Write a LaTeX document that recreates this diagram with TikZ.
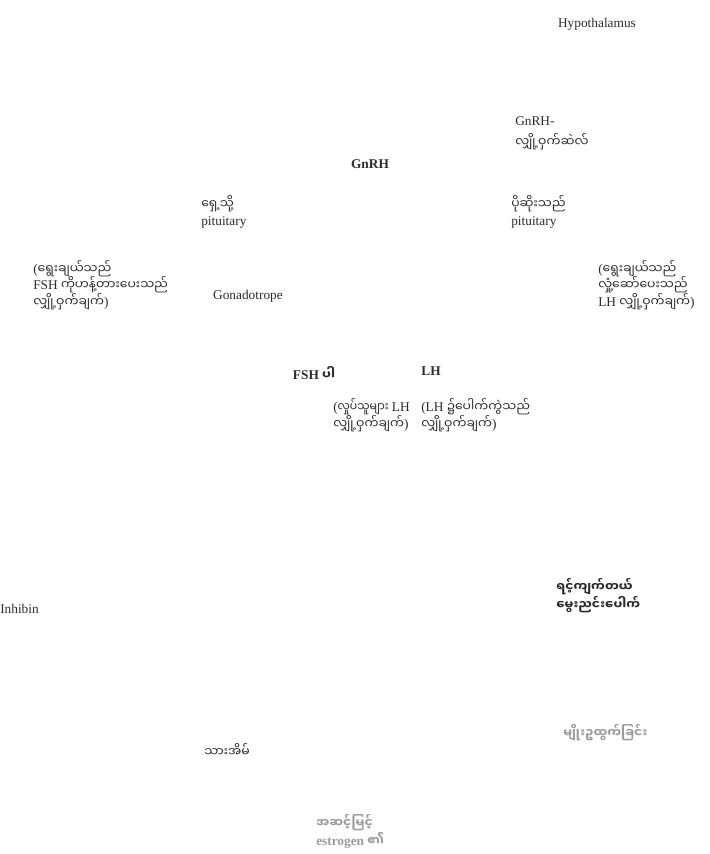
\documentclass[tikz,border=0pt]{standalone}
\usepackage{fontspec}
\setmainfont{Liberation Serif}
\newfontfamily\mmfont[Script=Myanmar,Scale=0.93]{Noto Sans Myanmar UI}
\newfontfamily\mmnarrow[Script=Myanmar,Scale=0.93,FakeStretch=0.88]{Noto Sans Myanmar UI}
\definecolor{hptext}{HTML}{2B2B2B}
\definecolor{hpfaint}{HTML}{9C9C9C}
\newcommand{\mm}[1]{{\mmfont #1}}
\newcommand{\hpfont}{\fontsize{10}{12.4}\selectfont\lineskiplimit=-20pt}
\tikzstyle{hplabel}=[text=hptext,align=left,anchor=west,inner sep=0pt,font=\hpfont]
\tikzstyle{hpmid}=[hplabel,anchor=center,align=center]
\tikzstyle{hpbold}=[hpmid,font=\hpfont\bfseries]

\begin{document}
\begin{tikzpicture}[x=0.75pt,y=-0.75pt]
    \useasboundingbox (0,0) rectangle (710,854);
    \node[hpmid] (hypo) at (597,24) {Hypothalamus};
    \node[hplabel] (gnrhcell) at (515,133) {GnRH-\\[3pt]\mm{လျှို့ဝှက်ဆဲလ်}};
    \node[hpbold] (gnrh) at (370,164) {GnRH};
    \node[hplabel] (antpit) at (201,212) {\mm{ရှေ့သို့}\\pituitary};
    \node[hplabel] (postpit) at (511,212) {\mm{ပိုဆိုးသည်}\\pituitary};
    \node[hplabel] (fshcell) at (33,285) {(\mm{ရွေးချယ်သည်}\\FSH \mm{ကိုဟန့်တားပေးသည်}\\\mm{လျှို့ဝှက်ချက်})};
    \node[hpmid] (gonado) at (248,296) {Gonadotrope};
    \node[hplabel] (lhcell) at (598,285) {(\mm{ရွေးချယ်သည်}\\\mm{လှုံ့ဆော်ပေးသည်}\\LH \mm{လျှို့ဝှက်ချက်})};
    \node[hpbold] (fsh) at (314,373) {FSH \mm{ပါ}};
    \node[hpbold] (lh) at (431,371) {LH};
    \node[hplabel] (pulse) at (333,415) {({\mmnarrow လှုပ်သူများ} LH\\\mm{လျှို့ဝှက်ချက်})};
    \node[hplabel] (surge) at (421,415) {(LH \mm{၌ပေါက်ကွဲသည်}\\\mm{လျှို့ဝှက်ချက်})};
    \node[hplabel] (inhibin) at (0,609) {Inhibin};
    \node[hplabel,font=\hpfont\bfseries] (follicle) at (556,596) {\mm{ရင့်ကျက်တယ်}\\[1pt]\mm{မွေးညင်းပေါက်}};
    \node[hplabel,text=hpfaint,font=\hpfont\bfseries] (ovul) at (563,733) {\mm{မျိုးဥထွက်ခြင်း}};
    \node[hplabel] (uterus) at (204,750) {\mm{သားအိမ်}};
    \node[hplabel,text=hpfaint,font=\hpfont\bfseries] (estro) at (316,831) {\mm{အဆင့်မြင့်}\\[1pt]estrogen \mm{၏}};
\end{tikzpicture}
\end{document}
